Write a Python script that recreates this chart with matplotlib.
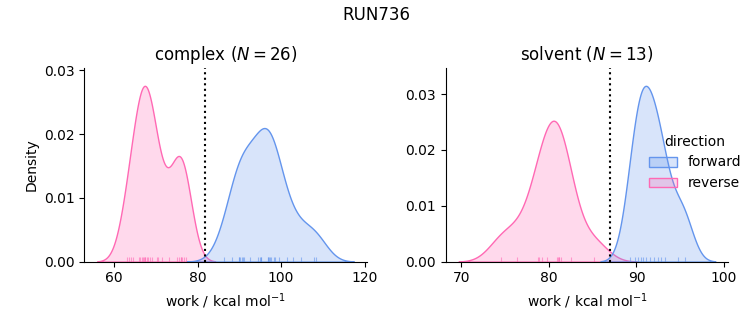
import pandas as pd
import seaborn as sns
import matplotlib.pyplot as plt

# work values (kcal/mol)
complex_forward = [86.4, 88.2, 89.8, 90.0, 90.2, 90.6, 90.8, 91.2, 92.6, 94.4, 94.9, 95.1, 95.3,
                   96.8, 96.9, 97.1, 97.3, 97.5, 98.2, 98.5, 99.6, 101.3, 102.9, 104.7, 108.0, 108.4]
complex_reverse = [63.0, 63.6, 64.0, 64.6, 66.0, 66.3, 66.7, 66.9, 67.1, 67.3, 67.5, 67.9, 68.2,
                   68.7, 69.1, 70.2, 70.5, 71.5, 73.1, 75.1, 75.5, 75.9, 76.1, 76.3, 76.7, 77.1]
solvent_forward = [89.3, 89.8, 90.2, 90.5, 90.8, 91.1, 91.5, 92.0, 92.5, 92.8, 93.3, 94.8, 95.6]
solvent_reverse = [74.5, 76.4, 78.75, 78.9, 79.2, 79.8, 80.9, 81.0, 81.1, 81.2, 81.4, 82.5, 85.2]

phases = ['complex', 'solvent']
free_energy = [81.8, 87.0]
palette = {'forward': 'cornflowerblue', 'reverse': 'hotpink'}

rows = []
for phase, fwd, rev in [('complex', complex_forward, complex_reverse),
                        ('solvent', solvent_forward, solvent_reverse)]:
    rows += [(phase, 'forward', w) for w in fwd]
    rows += [(phase, 'reverse', w) for w in rev]
df = pd.DataFrame(rows, columns=['phase', 'direction', 'work'])

g = sns.displot(data=df, x='work', col='phase', hue='direction', kind='kde',
                fill=True, rug=True, palette=palette, linewidth=1,
                rug_kws=dict(alpha=0.6, linewidth=0.8),
                facet_kws=dict(sharex=False, sharey=False))

for ax, phase, dg in zip(g.axes.flat, phases, free_energy):
    n = (df.phase == phase).sum() // 2
    ax.axvline(dg, color='k', linestyle=':', linewidth=1.5)
    ax.set_title(f'{phase} ($N={n}$)', fontsize=12)
    ax.set_xlabel('work / kcal mol$^{-1}$')

fig = g.figure
fig.set_size_inches(7.53, 3.25)
fig.set_dpi(100)
fig.suptitle('RUN736', fontsize=12)
fig.subplots_adjust(left=0.112, right=0.967, bottom=0.195, top=0.79, wspace=0.28)
sns.move_legend(g, 'center left', bbox_to_anchor=(0.845, 0.5), frameon=False)
fig.savefig('out.png', dpi=100)
